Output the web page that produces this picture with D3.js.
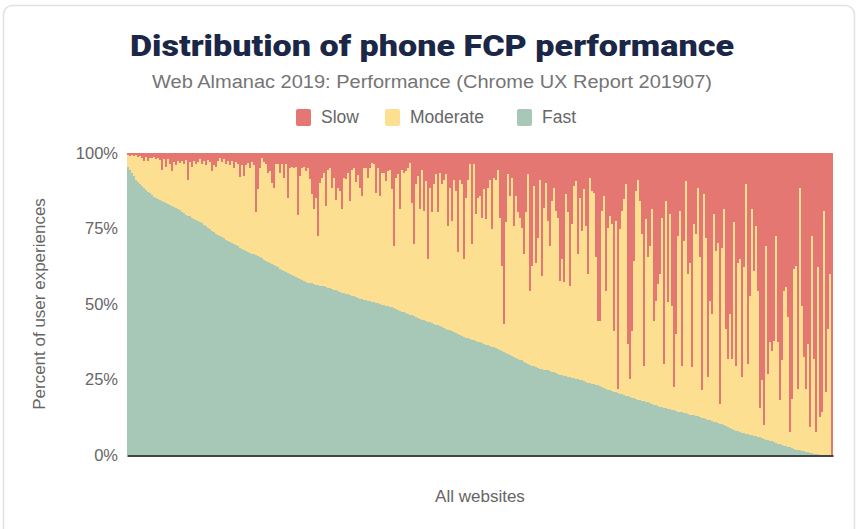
<!DOCTYPE html>
<html><head><meta charset="utf-8">
<script src="https://cdn.jsdelivr.net/npm/d3@7"></script>
<style>
body{margin:0;background:#fff;}
text{font-family:"Liberation Sans",Arial,sans-serif;}
</style></head>
<body>
<svg id="chart" width="858" height="529"></svg>
<script>
// Fast share (%) per website, sorted descending
const fast = [
95.3,94.5,93.5,92.3,91.0,90.3,89.6,89.0,88.3,87.7,
87.2,86.6,86.1,85.5,85.0,84.7,84.4,84.0,83.7,83.4,
83.1,82.8,82.4,82.1,81.8,81.4,81.0,80.5,80.1,79.6,
79.3,79.0,78.6,78.3,77.9,77.5,77.1,76.7,76.2,75.8,
75.3,74.8,74.3,73.7,73.2,72.8,72.5,72.1,71.7,71.3,
71.0,70.6,70.3,69.9,69.6,69.2,68.7,68.3,67.8,67.4,
67.2,67.0,66.7,66.5,66.1,65.8,65.4,65.1,64.7,64.4,
64.0,63.7,63.3,63.0,62.5,62.1,61.7,61.2,60.8,60.5,
60.2,59.8,59.5,59.2,58.8,58.5,58.2,57.8,57.5,57.3,
57.1,56.9,56.8,56.6,56.4,56.3,56.1,55.9,55.8,55.6,
55.4,55.2,54.9,54.7,54.5,54.3,54.0,53.8,53.6,53.4,
53.2,52.9,52.7,52.5,52.3,52.1,51.8,51.6,51.4,51.2,
51.1,50.9,50.7,50.5,50.3,50.2,50.0,49.8,49.6,49.4,
49.3,49.1,48.9,48.6,48.3,48.0,47.7,47.4,47.2,47.0,
46.7,46.5,46.2,45.9,45.6,45.4,45.1,44.8,44.6,44.4,
44.1,43.9,43.7,43.4,43.1,42.9,42.6,42.3,42.0,41.8,
41.5,41.3,41.0,40.7,40.3,40.0,39.6,39.3,39.1,38.9,
38.6,38.4,38.2,38.0,37.8,37.5,37.3,37.1,36.8,36.5,
36.3,36.0,35.8,35.6,35.4,35.1,34.9,34.6,34.2,33.9,
33.5,33.2,32.9,32.6,32.2,31.9,31.6,31.3,30.9,30.6,
30.2,29.9,29.6,29.4,29.1,28.9,28.6,28.5,28.3,28.2,
28.0,27.9,27.6,27.4,27.1,26.9,26.6,26.4,26.3,26.1,
25.9,25.7,25.5,25.4,25.2,25.1,24.9,24.7,24.5,24.2,
24.0,23.8,23.6,23.5,23.3,23.2,23.0,22.6,22.3,21.9,
21.6,21.4,21.2,20.9,20.7,20.5,20.3,20.1,19.8,19.6,
19.4,19.2,19.0,18.8,18.5,18.3,18.2,18.0,17.8,17.7,
17.5,17.2,16.9,16.6,16.4,16.1,16.0,15.8,15.6,15.5,
15.3,15.1,14.9,14.8,14.6,14.4,14.2,14.1,13.9,13.8,
13.6,13.4,13.3,13.1,13.0,12.8,12.6,12.4,12.2,11.9,
11.7,11.5,11.3,11.0,10.8,10.6,10.4,10.1,9.8,9.5,
9.2,8.9,8.6,8.3,8.0,7.8,7.6,7.4,7.2,7.0,
6.9,6.7,6.6,6.4,6.2,6.0,5.8,5.6,5.3,5.1,
4.9,4.7,4.5,4.2,4.0,3.8,3.6,3.4,3.1,2.9,
2.7,2.5,2.3,2.0,1.8,1.6,1.5,1.3,1.2,1.0,
0.9,0.7,0.6,0.4,0.3,0.2,0.1,0.1,0,0,
0,0,0
];
// Slow share (%) per website
const slow = [
0.5,1,0.7,1,0.8,1.2,1,1.5,2.5,1.3,
2.5,1.5,1.8,1.4,2,1.6,2.2,5.5,2,4.5,
2,3.5,6,3,4,2.5,3.2,2.5,3.5,2.2,
9,3,4.5,2.5,3.5,3,2,3.5,2.5,4,
2.2,3,6,4,4.5,2.5,1.5,3,2,3.5,
2.5,4,2.8,5,3,3.5,8,4,7.5,4,
3.3,5,3,4,19.5,12,5,1.5,3,3.5,
6.5,6,10,11.5,3.8,3.5,6.5,3.5,8.2,3.5,
15,5,4.5,5,4.8,20.5,7.5,5,4.5,6,
5,8.5,13.5,18.5,15,27.5,10,8.2,6.5,17.5,
5.5,5,11.5,8.2,15.5,11.5,12.5,18.5,8.2,8.5,
6.5,16,5.5,5,9.5,7.2,11.5,14.2,4.9,5,
8.2,5,3.3,3.8,13.2,5,14.2,6.5,6.5,9.3,
6,5.5,12,30.7,8.2,7.1,18.6,5.5,6.5,6,
5,3.3,16.5,30.2,10.4,7.6,18.6,5.5,19.2,9.3,
35.1,11.5,19.7,10.4,7.1,19.7,6.5,10.4,8.8,7.1,
24.2,11.5,22.5,8.8,12.6,32.9,8.8,10.4,35.1,14.8,
8.8,3.8,30.2,3.8,20.3,14.8,14.2,21.4,12,22,
11.5,8.8,25.3,8.2,8.8,5.5,21.4,37.4,56.6,23,
7.1,14.2,8.2,24.2,14.2,19.7,21.4,24.7,33.5,19.7,
7.1,45.6,37.4,11,36.3,28,8.8,40.7,18.1,9.9,
22.5,30.7,15.9,11.5,19.2,21.4,42.3,35.1,42.8,13.7,
19.7,43.9,23.6,11,9.3,33.5,14.8,25.8,12,24.2,
40.1,8.2,12.6,13.2,34.6,55.5,55.5,19.2,14.2,45.6,
24.7,20.8,23.6,58.8,22.5,78,25.3,19.2,15.3,10.4,
63.2,74.8,58.8,35.7,12.6,8.8,15.9,26.9,70.4,22,
34.6,30.7,18.6,55.5,48.9,43.4,40.1,21.4,69.8,15.9,
49.5,20.3,50.6,77.5,59.9,27.5,19.2,70.4,29.1,9.3,
40.1,36.3,70.9,23.6,26.9,11.5,34.6,78.6,13.7,28,
74.2,48.9,53.3,20.3,32.4,29.7,83,31.3,18.6,58.3,
68.2,53.3,68.2,23,70.4,36.3,35.1,74.2,37.9,10.4,
69.8,47.3,18.6,39,24.2,45.6,84.6,75.3,90.1,30.7,
73.1,62.7,65.4,62.1,27.5,62.7,81.9,68.7,45.6,44.5,
54.4,92.3,81.4,38.5,37.4,78,11.5,50.6,67.6,78,
63.2,90.7,27.5,68.2,92.3,37.9,87.4,85.8,19.2,79.1,
58.3,40,100
];
const websites = fast.map((_, i) => i);
const yTicks = [0, 25, 50, 75, 100];
const seriesKeys = ["fast", "moderate", "slow"];
const legendItems = ["Slow", "Moderate", "Fast"];
const colors = {slow: "#e47772", moderate: "#fddf92", fast: "#a7c7b7"};

// Build table (moderate is the remainder)
const table = websites.map(i => ({
  site: i,
  fast: fast[i],
  slow: slow[i],
  moderate: Math.max(0, 100 - fast[i] - slow[i])
}));

const svg = d3.select("#chart");
const W = 858, H = 529;
const m = {left: 127, right: 25, top: 153, bottom: 73};

// card
svg.append("rect").attr("x", 3.5).attr("y", 5.5).attr("width", 851).attr("height", 540)
  .attr("rx", 9).attr("fill", "#fff").attr("stroke", "#e2e2e2").attr("stroke-width", 1.5);

const x = d3.scaleBand().domain(websites).range([m.left, W - m.right]).padding(0);
const y = d3.scaleLinear().domain([0, 100]).range([H - m.bottom - 1, m.top]);

const stack = d3.stack().keys(seriesKeys)(table);

svg.append("g").selectAll("g").data(stack).join("g")
  .attr("fill", d => colors[d.key])
  .selectAll("rect").data(d => d).join("rect")
  .attr("x", d => x(d.data.site))
  .attr("width", x.bandwidth() + 0.3)
  .attr("y", d => y(Math.min(100, d[1])))
  .attr("height", d => Math.max(0, y(d[0]) - y(Math.min(100, d[1]))))
  .attr("shape-rendering", "crispEdges");

// y axis
const yAxis = d3.axisLeft(y).tickValues(yTicks).tickFormat(d => d + "%").tickSize(0).tickPadding(9);
const gy = svg.append("g").attr("transform", `translate(${m.left},0)`).call(yAxis);
gy.select(".domain").remove();
gy.selectAll("text").attr("fill", "#666").style("font-size", "16.5px")
  .style("font-family", "'Liberation Sans', Arial, sans-serif");

// x axis line
const xAxis = d3.axisBottom(x).tickValues([]).tickSize(0).tickSizeOuter(0);
const gx = svg.append("g").attr("transform", `translate(0,${y(0) + 0.5})`).call(xAxis);
gx.select(".domain").attr("stroke", "#444").attr("stroke-width", 2);

// titles
svg.append("text").attr("x", 432).attr("y", 56).attr("text-anchor", "middle")
  .attr("fill", "#1b2747").style("font-family", "Roboto, 'Liberation Sans', sans-serif")
  .style("font-weight", 900).style("font-size", "29px")
  .attr("textLength", 604).attr("lengthAdjust", "spacingAndGlyphs")
  .text("Distribution of phone FCP performance");
svg.append("text").attr("x", 432).attr("y", 88).attr("text-anchor", "middle")
  .attr("fill", "#757575").style("font-size", "18px")
  .attr("textLength", 560).attr("lengthAdjust", "spacingAndGlyphs")
  .text("Web Almanac 2019: Performance (Chrome UX Report 201907)");

// legend
const legendX = [296, 385, 517];
const lg = svg.append("g");
legendItems.forEach((name, i) => {
  const key = name.toLowerCase();
  lg.append("rect").attr("x", legendX[i]).attr("y", 109).attr("width", 15).attr("height", 17)
    .attr("rx", 2).attr("fill", colors[key]);
  lg.append("text").attr("x", legendX[i] + 25).attr("y", 123).attr("fill", "#666")
    .style("font-size", "17.5px").text(name);
});

// axis titles
svg.append("text").attr("transform", `translate(45,${(y(0) + y(100)) / 2}) rotate(-90)`)
  .attr("text-anchor", "middle").attr("fill", "#666").style("font-size", "17px")
  .text("Percent of user experiences");
svg.append("text").attr("x", 480).attr("y", 502).attr("text-anchor", "middle")
  .attr("fill", "#666").style("font-size", "17px").text("All websites");
</script>
</body></html>
